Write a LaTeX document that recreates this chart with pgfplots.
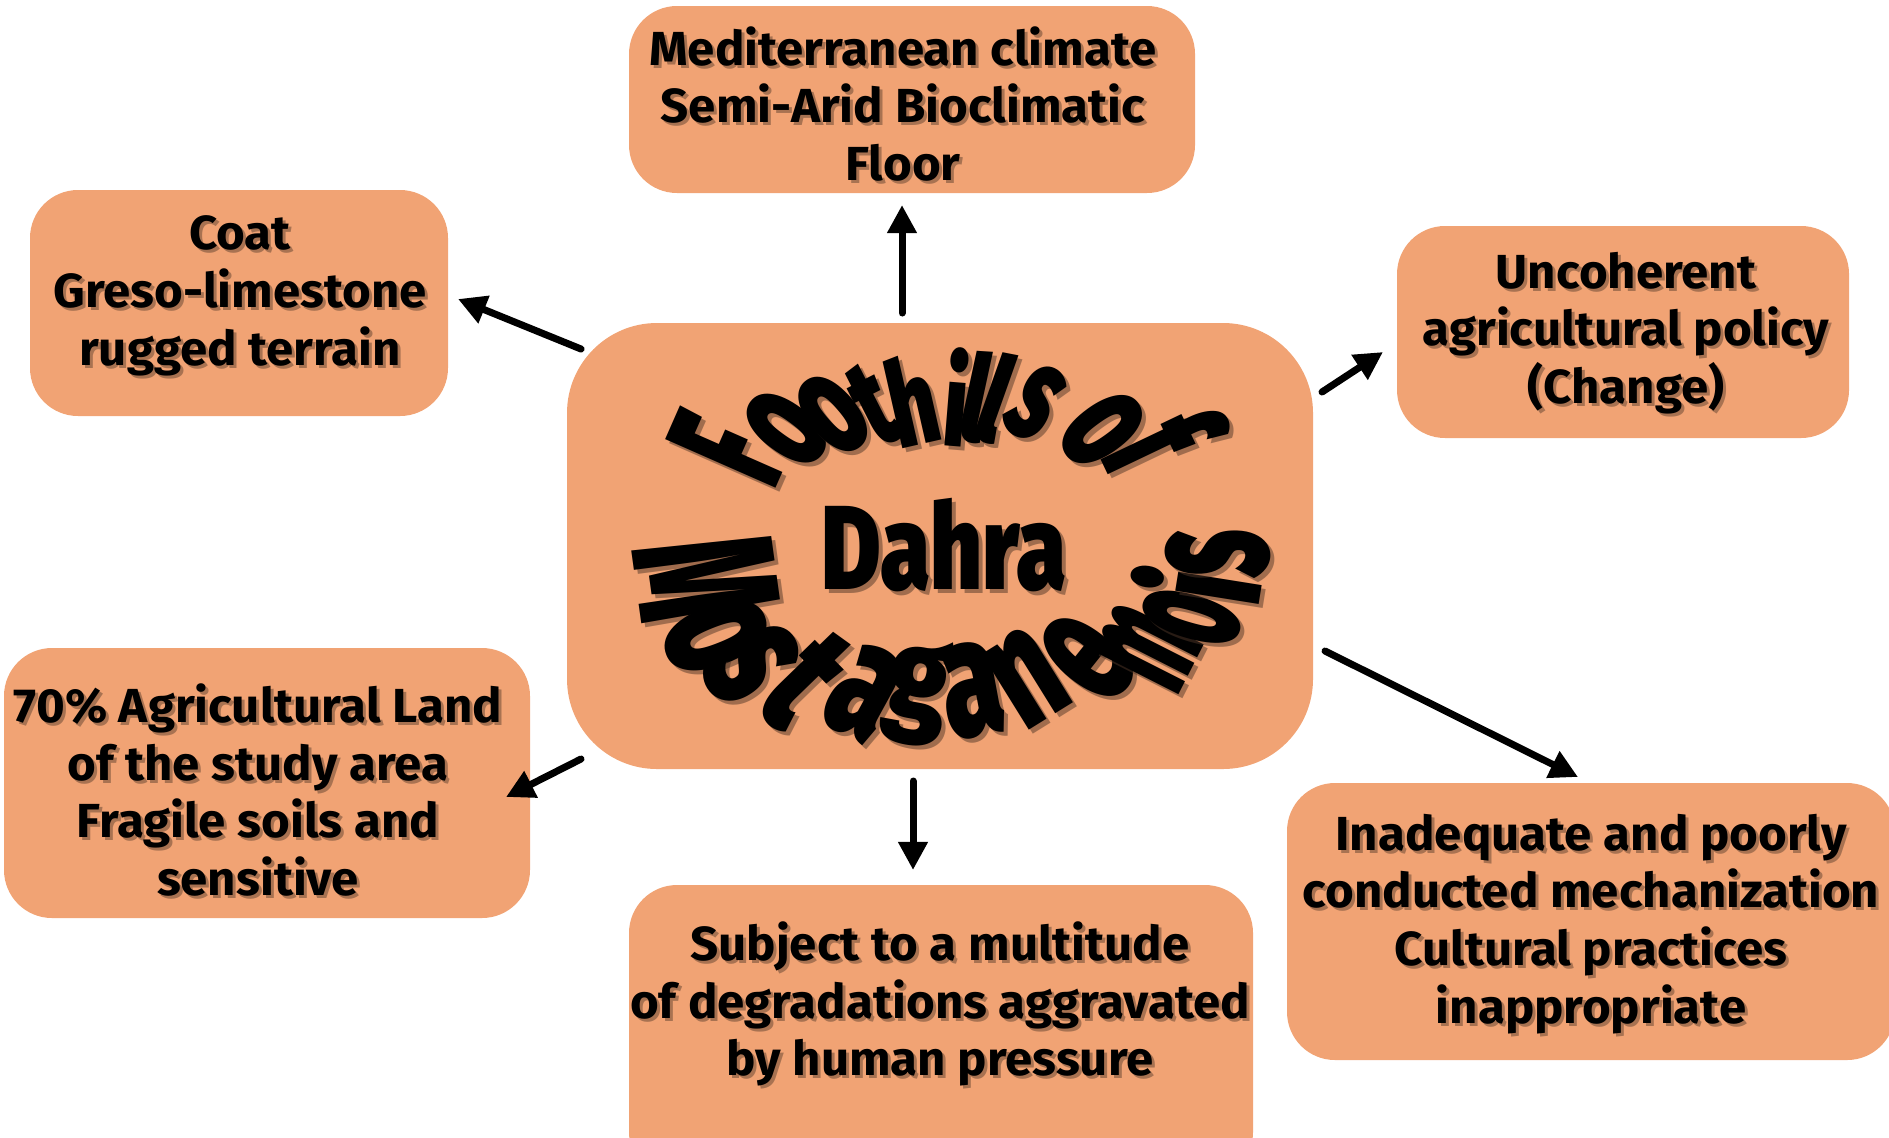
\documentclass[border=0pt]{standalone}
\usepackage{fontspec}
\usepackage{graphicx}
\usepackage{pgfplots}
\pgfplotsset{compat=1.18}
\usetikzlibrary{arrows.meta}
\definecolor{boxc}{RGB}{241,163,116}
\definecolor{shc}{RGB}{80,55,40}
\IfFontExistsTF{Fira Sans Bold}{\newfontfamily\bx{Fira Sans Bold}[FakeStretch=1.03]}{\newfontfamily\bx{Fira Sans}[FakeStretch=1.03,FakeBold=2]}
\IfFontExistsTF{Fira Sans Black}{\newfontfamily\wafont{Fira Sans Black}}{%
 \IfFontExistsTF{Fira Sans Heavy}{\newfontfamily\wafont{Fira Sans Heavy}}{%
  \IfFontExistsTF{Fira Sans ExtraBold}{\newfontfamily\wafont{Fira Sans ExtraBold}}{%
   \newfontfamily\wafont{Fira Sans Bold}[FakeBold=3]}}}
\tikzset{bt/.style={align=center, inner sep=0pt, font=\bx\fontsize{13.6}{16.45}\selectfont},
 wau/.style={inner sep=0pt, font=\wafont\fontsize{34}{34}\selectfont},
 wal/.style={inner sep=0pt, font=\wafont\fontsize{50}{50}\selectfont},
 arr/.style={black, line width=2pt, line cap=round, -{Triangle[length=8pt,width=8pt]}}}
\newcommand\btext[3]{%
 \node[bt, text=shc, opacity=0.45] at (axis cs:{#1+3},{#2+3}) {#3};
 \node[bt, text=black] at (axis cs:#1,#2) {#3};}
\newcommand\wup[5]{%
 \node[wau, text=shc, opacity=0.5, rotate={atan2(545-(#2),(#1)-945)-90}] at (axis cs:{#1+4},{#2+4}) {\scalebox{#3}[#4]{#5}};
 \node[wau, rotate={atan2(545-(#2),(#1)-945)-90}] at (axis cs:#1,#2) {\scalebox{#3}[#4]{#5}};}
\newcommand\wlo[5]{%
 \node[wal, text=shc, opacity=0.5, rotate={atan2((#2)-545,945-(#1))-90}] at (axis cs:{#1+4},{#2+4}) {\scalebox{#3}[#4]{#5}};
 \node[wal, rotate={atan2((#2)-545,945-(#1))-90}] at (axis cs:#1,#2) {\scalebox{#3}[#4]{#5}};}
\begin{document}
\begin{tikzpicture}
\path[use as bounding box] (0,0) rectangle (188.9mm,113.7mm);
\begin{axis}[at={(0,0)}, anchor=south west, scale only axis,
  width=188.9mm, height=113.7mm, xmin=0, xmax=1889, ymin=0, ymax=1137,
  y dir=reverse, hide axis, clip=false]
% boxes
\fill[boxc, rounded corners=4.8mm] (axis cs:629,6) rectangle (axis cs:1195,193);
\fill[boxc, rounded corners=4.8mm] (axis cs:30,190) rectangle (axis cs:448,416);
\fill[boxc, rounded corners=4.8mm] (axis cs:1397,226) rectangle (axis cs:1849,438);
\fill[boxc, rounded corners=9mm] (axis cs:567,323) rectangle (axis cs:1313,769);
\fill[boxc, rounded corners=4.8mm] (axis cs:4,648) rectangle (axis cs:530,918);
\fill[boxc, rounded corners=4.8mm] (axis cs:629,885) rectangle (axis cs:1253,1180);
\fill[boxc, rounded corners=4.8mm] (axis cs:1287,783) rectangle (axis cs:1895,1060);
% arrows
\addplot[arr] coordinates {(902,313) (902,205)};
\addplot[arr] coordinates {(581,349) (458,299)};
\addplot[arr] coordinates {(1322,392) (1383,352)};
\addplot[arr] coordinates {(581,759) (506,797)};
\addplot[arr] coordinates {(913,781) (913,870)};
\addplot[arr] coordinates {(1325,651) (1578,777)};
% texts
\btext{903}{104}{Mediterranean climate\\Semi-Arid Bioclimatic\\Floor}
\btext{240}{296}{Coat\\Greso-limestone\\rugged terrain}
\btext{1626}{333}{Uncoherent\\agricultural policy\\(Change)}
\btext{258}{790}{70\% Agricultural Land\\of the study area\\Fragile soils and\\sensitive}
\btext{940}{1004}{Subject to a multitude\\of degradations aggravated\\by human pressure}
\btext{1591}{924}{Inadequate and poorly\\conducted mechanization\\Cultural practices\\inappropriate}
% word art upper
\wup{727}{449}{0.7}{1.45}{F}
\wup{787}{429}{0.76}{1.3}{o}
\wup{833}{414}{0.74}{1.25}{o}
\wup{874}{405}{0.68}{1.05}{t}
\wup{912}{400}{0.68}{1.0}{h}
\wup{957}{397}{0.68}{1.0}{i}
\wup{977}{397}{0.68}{1.0}{l}
\wup{997}{398}{0.68}{1.0}{l}
\wup{1036}{403}{0.7}{1.15}{s}
\wup{1103}{430}{0.76}{1.3}{o}
\wup{1165}{440}{0.7}{1.45}{f}
% Dahra
\node[wau, text=shc, opacity=0.5] at (axis cs:948,549) {\scalebox{0.76}[1.0]{Dahra}};
\node[wau] at (axis cs:944,545) {\scalebox{0.76}[1.0]{Dahra}};
% word art lower
\wlo{706}{578}{0.55}{1.15}{M}
\wlo{716}{636}{0.62}{1.05}{o}
\wlo{752}{664}{0.62}{1.0}{s}
\wlo{806}{680}{0.62}{0.95}{t}
\wlo{864}{693}{0.62}{0.95}{a}
\wlo{918}{692}{0.62}{0.72}{g}
\wlo{972}{690}{0.62}{0.95}{a}
\wlo{1027}{677}{0.6}{0.95}{n}
\wlo{1087}{658}{0.58}{1.0}{e}
\wlo{1148}{648}{0.42}{1.0}{m}
\wlo{1192}{617}{0.45}{1.0}{o}
\wlo{1196}{585}{0.55}{0.9}{i}
\wlo{1218}{553}{0.55}{1.05}{s}
\end{axis}
\end{tikzpicture}
\end{document}
